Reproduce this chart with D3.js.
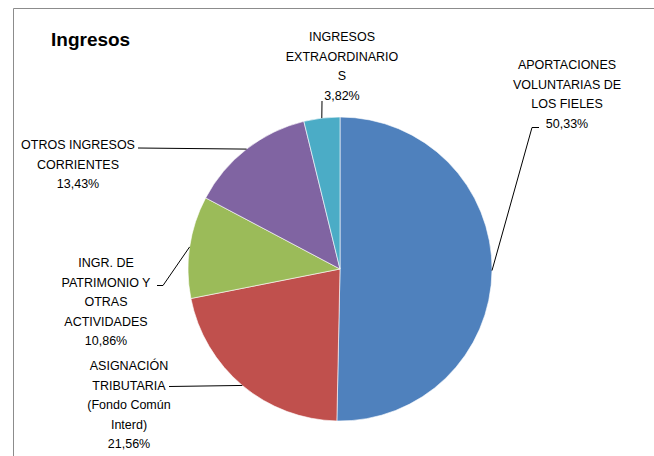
<!DOCTYPE html>
<html>
<head>
<meta charset="utf-8">
<script src="https://cdnjs.cloudflare.com/ajax/libs/d3/7.8.5/d3.min.js"></script>
<style>
  html, body { margin: 0; padding: 0; background: #fff; }
  svg { display: block; }
  .slice-label { font-family: "Liberation Sans", Arial, sans-serif; font-size: 12.5px; fill: #000; }
  .title { font-family: "Liberation Sans", Arial, sans-serif; font-size: 19px; font-weight: bold; fill: #000; }
</style>
</head>
<body>
<div id="chart"></div>
<script>
// Ingresos - pie chart

const categories = [
    "APORTACIONES VOLUNTARIAS DE LOS FIELES",
    "ASIGNACIÓN TRIBUTARIA (Fondo Común Interd)",
    "INGR. DE PATRIMONIO Y OTRAS ACTIVIDADES",
    "OTROS INGRESOS CORRIENTES",
    "INGRESOS EXTRAORDINARIOS"
];
const values = [50.33, 21.56, 10.86, 13.43, 3.82];
const valueLabels = ["50,33%", "21,56%", "10,86%", "13,43%", "3,82%"];
// wrapped name lines, as they appear in the chart
const labelLines = [
    ["APORTACIONES", "VOLUNTARIAS DE", "LOS FIELES"],
    ["ASIGNACIÓN", "TRIBUTARIA", "(Fondo Común", "Interd)"],
    ["INGR. DE", "PATRIMONIO Y", "OTRAS", "ACTIVIDADES"],
    ["OTROS INGRESOS", "CORRIENTES"],
    ["INGRESOS", "EXTRAORDINARIO", "S"]
];
const colors = ["#4F81BD", "#C0504D", "#9BBB59", "#8064A2", "#4BACC6"];

const width = 654, height = 456;
const cx = 340, cy = 269, radius = 152;
const lineH = 19.5;

// label placement: centre x, first baseline, and where the leader meets the label
const labelLayout = [
    { x: 567, y: 69,  leader: [[539, 127.5], [532, 127.5]] },
    { x: 129, y: 370, leader: [[169, 386.5]] },
    { x: 106, y: 267, leader: [[157, 285.5], [163, 285.5]] },
    { x: 78,  y: 149, leader: [[138, 148]] },
    { x: 342, y: 41,  leader: [[322, 101]] }
];

const svg = d3.select('#chart')
    .append('svg')
    .attr('width', width)
    .attr('height', height);

// chart frame (open at the right and bottom, as cropped)
svg.append('path')
    .attr('d', `M13.5,${height} L13.5,8.5 L${width},8.5`)
    .attr('fill', 'none')
    .attr('stroke', '#8c8c8c')
    .attr('stroke-width', 1);

svg.append('text')
    .attr('class', 'title')
    .attr('x', 51)
    .attr('y', 46)
    .text('Ingresos');

const pie = d3.pie().sort(null).value(d => d)
    .startAngle(0).endAngle(2 * Math.PI);
const arcs = pie(values);

const arc = d3.arc().innerRadius(0).outerRadius(radius);
const edge = d3.arc().innerRadius(radius).outerRadius(radius);

const g = svg.append('g').attr('transform', `translate(${cx},${cy})`);

g.selectAll('path.slice')
    .data(arcs)
    .enter()
    .append('path')
    .attr('class', 'slice')
    .attr('d', arc)
    .attr('fill', (d, i) => colors[i])
    .attr('stroke', '#fff')
    .attr('stroke-width', 0.6);

// leader lines from slice edge to label
const line = d3.line();
arcs.forEach((d, i) => {
    const c = edge.centroid(d);
    const pts = labelLayout[i].leader.slice();
    pts.push([c[0] + cx, c[1] + cy]);
    svg.append('path')
        .attr('d', line(pts))
        .attr('fill', 'none')
        .attr('stroke', '#000')
        .attr('stroke-width', 1);
});

// labels
labelLines.forEach((lines, i) => {
    const L = labelLayout[i];
    const t = svg.append('text')
        .attr('class', 'slice-label')
        .attr('text-anchor', 'middle');
    lines.concat([valueLabels[i]]).forEach((s, k) => {
        t.append('tspan')
            .attr('x', L.x)
            .attr('y', L.y + k * lineH)
            .text(s);
    });
});
</script>
</body>
</html>
